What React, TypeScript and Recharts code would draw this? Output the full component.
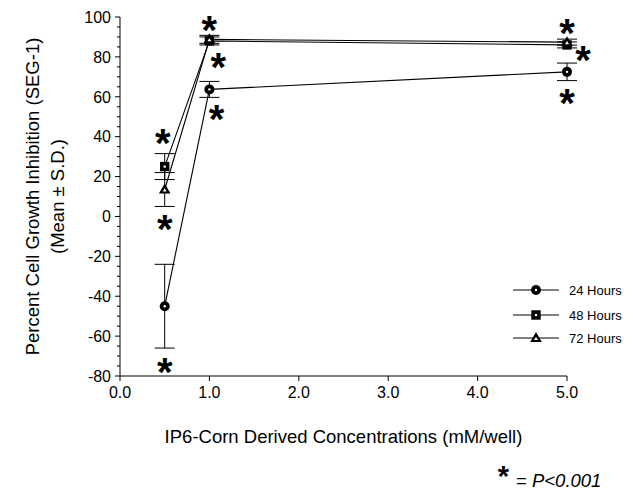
import React from 'react';
import { LineChart, Line, XAxis, YAxis, ErrorBar, ReferenceDot, Legend, Label } from 'recharts';

// concentrations (mM/well) and mean % growth inhibition with S.D.
const concentrations = [0.5, 1.0, 5.0];
const hours24 = [-45, 63.7, 72.5];
const hours24Sd = [21, 4, 4.4];
const hours48 = [25, 88, 86];
const hours48Sd = [6.5, 2, 1.5];
const hours72 = [13.5, 88.8, 87.4];
const hours72Sd = [8.5, 2, 1.5];

const seriesNames = ['24 Hours', '48 Hours', '72 Hours'];

const xTicks = [0, 1, 2, 3, 4, 5];
const yTicks = [
  -80, -75, -70, -65, -60, -55, -50, -45, -40, -35, -30, -25, -20, -15, -10, -5,
  0, 5, 10, 15, 20, 25, 30, 35, 40, 45, 50, 55, 60, 65, 70, 75, 80, 85, 90, 95, 100,
];

// significance asterisks (P<0.001)
const starX = [0.48, 0.5, 0.5, 1.0, 1.1, 1.08, 5.0, 5.18, 5.0];
const starY = [39, -4, -75.5, 96, 77.5, 51, 94.3, 81, 59];

const data = concentrations.map((x, i) => ({
  x,
  h24: hours24[i],
  h24Sd: hours24Sd[i],
  h48: hours48[i],
  h48Sd: hours48Sd[i],
  h72: hours72[i],
  h72Sd: hours72Sd[i],
}));

const font = '"Liberation Sans", Arial, Helvetica, sans-serif';

const Marker = ({ kind, cx, cy }: { kind: string; cx: number; cy: number }) => {
  if (kind === 'circle') {
    return (
      <g>
        <circle cx={cx} cy={cy} r={5} fill="#000" />
        <circle cx={cx} cy={cy} r={1.2} fill="#fff" />
      </g>
    );
  }
  if (kind === 'square') {
    return (
      <g>
        <rect x={cx - 4.7} y={cy - 4.7} width={9.4} height={9.4} fill="#000" />
        <rect x={cx - 1.1} y={cy - 1.1} width={2.2} height={2.2} fill="#fff" />
      </g>
    );
  }
  return (
    <g>
      <polygon points={`${cx},${cy - 6} ${cx - 5.8},${cy + 4} ${cx + 5.8},${cy + 4}`} fill="#000" />
      <polygon points={`${cx},${cy - 1.2} ${cx - 2},${cy + 2} ${cx + 2},${cy + 2}`} fill="#fff" />
    </g>
  );
};

const kinds = ['circle', 'square', 'triangle'];

const makeDot = (kind: string) => (props: any) => (
  <Marker key={`${kind}-${props.index}`} kind={kind} cx={props.cx} cy={props.cy} />
);

const YTick = (props: any) => {
  const { x, y, payload } = props;
  const v = payload.value;
  const major = v % 20 === 0;
  return (
    <g>
      <line x1={x - (major ? 5 : 3)} x2={x} y1={y} y2={y} stroke="#000" />
      {major && (
        <text x={x - 9} y={y} dy="0.36em" textAnchor="end" fontSize={16} fontFamily={font} fill="#000">
          {v}
        </text>
      )}
    </g>
  );
};

const Star = (props: any) => (
  <text x={props.cx} y={props.cy + 18.7} textAnchor="middle" fontSize={40} fontWeight="bold" fontFamily={font} fill="#000">
    *
  </text>
);

const YTitle = (props: any) => {
  const { viewBox } = props;
  const cy = viewBox.y + viewBox.height / 2;
  return (
    <g fontFamily={font} fontSize={18.5} fill="#000">
      <text x={32} y={cy} transform={`rotate(-90 32 ${cy})`} textAnchor="middle" dy="0.36em">
        Percent Cell Growth Inhibition (SEG-1)
      </text>
      <text x={57} y={cy} transform={`rotate(-90 57 ${cy})`} textAnchor="middle" dy="0.36em">
        (Mean ± S.D.)
      </text>
    </g>
  );
};

const XTitle = (props: any) => {
  const { viewBox } = props;
  const cx = viewBox.x + viewBox.width / 2;
  return (
    <g fontFamily={font} fill="#000">
      <text x={cx} y={viewBox.y + 67} textAnchor="middle" fontSize={18.5}>
        IP6-Corn Derived Concentrations (mM/well)
      </text>
      <text x={503.5} y={472 + 13.5} textAnchor="middle" fontSize={29} fontWeight="bold">
        *
      </text>
      <text x={516} y={487} fontSize={18.5} fontStyle="italic">
        <tspan fontStyle="normal">=</tspan> P&lt;0.001
      </text>
    </g>
  );
};

const LegendBox = () => (
  <svg width={128} height={70} style={{ display: 'block' }}>
    {seriesNames.map((name, i) => {
      const y = [10, 35, 58][i];
      return (
        <g key={name}>
          <line x1={8} x2={54} y1={y} y2={y} stroke="#000" />
          <Marker kind={kinds[i]} cx={31} cy={y} />
          <text x={64} y={y} dy="0.36em" fontSize={13} fontFamily={font} fill="#000">
            {name}
          </text>
        </g>
      );
    })}
  </svg>
);

export default function App() {
  return (
    <div style={{ position: 'absolute', left: 0, top: 0, width: 633, height: 492, background: '#fff' }}>
      <LineChart width={633} height={492} data={data} margin={{ top: 17, right: 66, left: 0, bottom: 0 }}>
        <XAxis
          type="number"
          dataKey="x"
          domain={[0, 5]}
          ticks={xTicks}
          interval={0}
          tickFormatter={(v: number) => v.toFixed(1)}
          height={116}
          tickSize={5}
          tickMargin={6}
          stroke="#000"
          tick={{ fill: '#000', fontSize: 16, fontFamily: font }}
        >
          <Label content={XTitle} />
        </XAxis>
        <YAxis
          type="number"
          domain={[-80, 100]}
          ticks={yTicks}
          interval={0}
          width={120}
          tickSize={0}
          tickMargin={0}
          tickLine={false}
          stroke="#000"
          tick={YTick}
        >
          <Label content={YTitle} />
        </YAxis>
        <Legend
          layout="horizontal"
          verticalAlign="middle"
          align="center"
          wrapperStyle={{ position: 'absolute', left: 505, top: 280, width: 128, height: 70 }}
          content={LegendBox}
        />
        <Line dataKey="h24" name={seriesNames[0]} stroke="#000" strokeWidth={1.1} dot={makeDot('circle')} isAnimationActive={false}>
          <ErrorBar dataKey="h24Sd" width={10} stroke="#000" strokeWidth={1} isAnimationActive={false} />
        </Line>
        <Line dataKey="h48" name={seriesNames[1]} stroke="#000" strokeWidth={1.1} dot={makeDot('square')} isAnimationActive={false}>
          <ErrorBar dataKey="h48Sd" width={10} stroke="#000" strokeWidth={1} isAnimationActive={false} />
        </Line>
        <Line dataKey="h72" name={seriesNames[2]} stroke="#000" strokeWidth={1.1} dot={makeDot('triangle')} isAnimationActive={false}>
          <ErrorBar dataKey="h72Sd" width={10} stroke="#000" strokeWidth={1} isAnimationActive={false} />
        </Line>
        {starX.map((sx, i) => (
          <ReferenceDot key={i} x={sx} y={starY[i]} r={1} ifOverflow="visible" shape={Star} />
        ))}
      </LineChart>
    </div>
  );
}
